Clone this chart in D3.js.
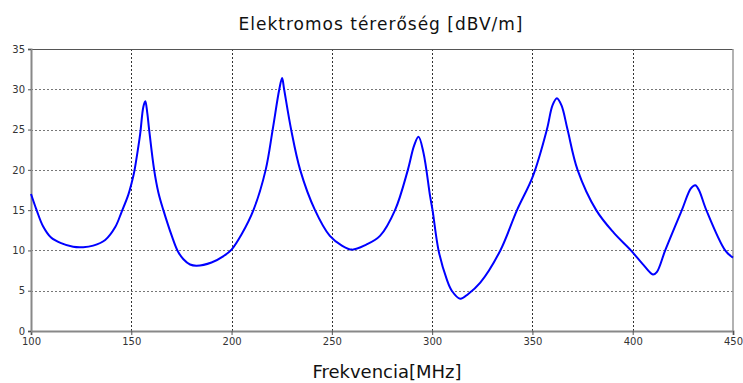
<!DOCTYPE html>
<html>
<head>
<meta charset="utf-8">
<script src="https://cdn.jsdelivr.net/npm/d3@7"></script>
<style>
  body { margin: 0; background: #fff; }
  text { font-family: "DejaVu Sans", Verdana, sans-serif; }
</style>
</head>
<body>
<div id="chart"></div>
<script>
// frequency (MHz) and field strength (dBV/m)
const freq = [100, 102.8, 106, 110, 115, 121, 126, 131, 137, 142, 145.2, 148.5, 150.2, 151.5, 152.2, 154.4, 156, 157, 158, 158.9, 161.4, 163.5, 166, 170.2, 173, 176, 179.3, 182.6, 190, 196, 200, 205, 210.9, 217, 220.5, 223.8, 225.2, 226.2, 229.7, 234.2, 241.6, 249, 255, 260, 267, 274, 281.5, 287.9, 291, 293.2, 295.7, 299, 300.2, 303.2, 307.3, 309.8, 314, 318, 324, 334, 342.3, 350.2, 357.2, 360, 362.2, 364.5, 367.5, 372.5, 381.8, 390.5, 399.1, 405, 410.1, 412, 416.2, 424.5, 429, 431.2, 433, 436.7, 446.1, 450];
const field = [17.0, 15.0, 13.0, 11.6, 10.9, 10.45, 10.4, 10.6, 11.3, 12.9, 14.8, 16.9, 18.4, 19.8, 20.8, 24.4, 27.8, 28.5, 27.0, 25.0, 20.0, 17.2, 15.0, 11.8, 10.0, 8.9, 8.25, 8.1, 8.5, 9.3, 10.1, 12.0, 15.0, 20.0, 25.0, 30.0, 31.4, 30.0, 25.0, 20.0, 15.0, 11.8, 10.6, 10.1, 10.7, 11.8, 15.0, 20.0, 23.0, 24.1, 22.1, 16.7, 15.0, 10.0, 6.4, 5.0, 4.0, 4.6, 6.0, 10.0, 15.0, 19.2, 25.0, 28.0, 28.9, 28.0, 25.0, 20.0, 15.0, 12.2, 10.0, 8.3, 7.0, 7.3, 10.0, 15.0, 17.7, 18.1, 17.5, 15.0, 10.0, 9.1];
const xTicks = [100, 150, 200, 250, 300, 350, 400, 450];
const yTicks = [0, 5, 10, 15, 20, 25, 30, 35];

const svgWidth = 743, svgHeight = 383,
      margin = { top: 49, right: 10, bottom: 52, left: 31 };
const width = svgWidth - margin.left - margin.right;
const height = svgHeight - margin.top - margin.bottom;

const svg = d3.select("#chart").append("svg")
  .attr("width", svgWidth)
  .attr("height", svgHeight);

const g = svg.append("g")
  .attr("transform", `translate(${margin.left}, ${margin.top})`);

const x = d3.scaleLinear().domain([100, 450]).range([0, width]);
const y = d3.scaleLinear().domain([0, 35]).range([height, 0]);

// grid
g.selectAll(".hgrid").data(yTicks.filter(v => v > 0 && v < 35)).enter()
  .append("line")
  .attr("x1", 0).attr("x2", width)
  .attr("y1", d => Math.round(y(d)) + 0.5).attr("y2", d => Math.round(y(d)) + 0.5)
  .attr("stroke", "#777").attr("stroke-dasharray", "2,2");
g.selectAll(".vgrid").data(xTicks.filter(v => v > 100 && v < 450)).enter()
  .append("line")
  .attr("x1", d => Math.round(x(d)) + 0.5).attr("x2", d => Math.round(x(d)) + 0.5)
  .attr("y1", 0).attr("y2", height)
  .attr("stroke", "#333").attr("stroke-dasharray", "2,2");

// frame
g.append("line").attr("x1", 0).attr("x2", width).attr("y1", 0.5).attr("y2", 0.5)
  .attr("stroke", "#555");
g.append("line").attr("x1", width).attr("x2", width).attr("y1", 0).attr("y2", height)
  .attr("stroke", "#999").attr("stroke-width", 1.5);

// axes
const xAxis = g.append("g")
  .attr("transform", `translate(0, ${height})`)
  .call(d3.axisBottom(x).tickValues(xTicks).tickSize(4).tickPadding(3));
const yAxis = g.append("g")
  .call(d3.axisLeft(y).tickValues(yTicks).tickSize(3).tickPadding(3));

[xAxis, yAxis].forEach(a => {
  a.select(".domain").attr("stroke", "#888").attr("stroke-width", 2);
  a.selectAll(".tick line").attr("stroke", "#555");
  a.selectAll(".tick text").attr("fill", "#333").attr("font-size", 10)
    .attr("font-family", "DejaVu Sans, sans-serif");
});

// curve
const line = d3.line()
  .x((d, i) => x(freq[i]))
  .y(d => y(d))
  .curve(d3.curveCatmullRom.alpha(0.5));

g.append("path")
  .datum(field)
  .attr("fill", "none")
  .attr("stroke", "#0000ff")
  .attr("stroke-width", 2)
  .attr("d", line);

// titles
svg.append("text")
  .attr("x", 381).attr("y", 30)
  .attr("text-anchor", "middle")
  .attr("font-size", 17)
  .attr("letter-spacing", 1)
  .attr("fill", "#111")
  .text("Elektromos térerőség [dBV/m]");

svg.append("text")
  .attr("x", 387).attr("y", 378)
  .attr("text-anchor", "middle")
  .attr("font-size", 18)
  .attr("fill", "#111")
  .text("Frekvencia[MHz]");
</script>
</body>
</html>
